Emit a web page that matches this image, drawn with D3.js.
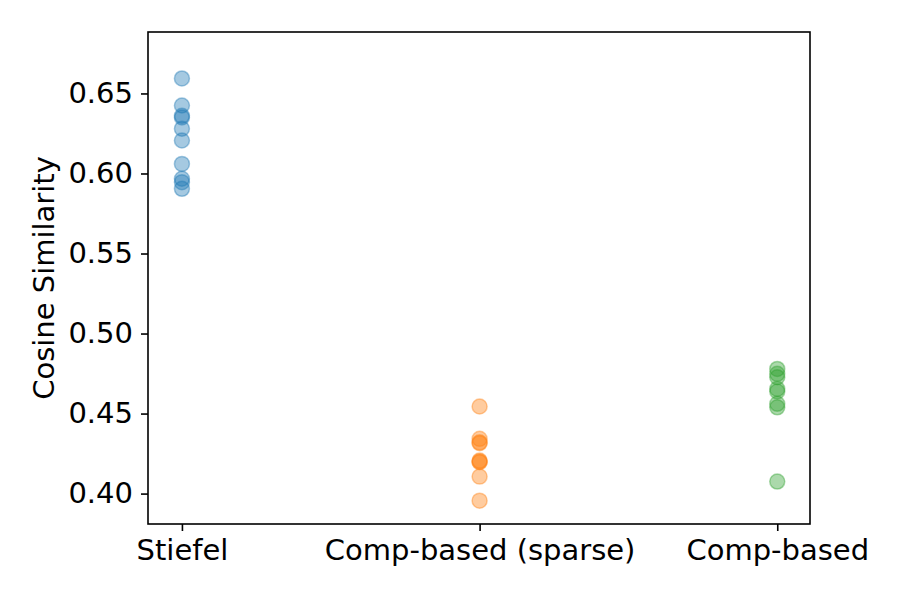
<!DOCTYPE html>
<html><head><meta charset="utf-8">
<script src="https://cdn.jsdelivr.net/npm/d3@7"></script>
<style>body{margin:0;background:#fff}svg{display:block}</style>
</head><body>
<script>
const categories = ["Stiefel", "Comp-based (sparse)", "Comp-based"];
const colors = ["#1f77b4", "#ff7f0e", "#2ca02c"];
const stiefel = [0.6594, 0.6425, 0.636, 0.635, 0.628, 0.6206, 0.606, 0.5967, 0.5946, 0.5904];
const compSparse = [0.4544, 0.4342, 0.432, 0.4315, 0.4206, 0.4200, 0.4196, 0.4106, 0.3956];
const compBased = [0.4779, 0.4748, 0.4727, 0.4654, 0.4638, 0.4561, 0.4539, 0.4075];
const yTicks = [0.40, 0.45, 0.50, 0.55, 0.60, 0.65];
const series = [stiefel, compSparse, compBased];

const W = 900, H = 600;
const m = {left: 148, right: 810, top: 32, bottom: 524};
const svg = d3.select("body").append("svg").attr("width", W).attr("height", H);
const x = d3.scaleLinear().domain([-0.114, 2.11]).range([m.left, m.right]);
const y = d3.scaleLinear().domain([0.3810, 0.6884]).range([m.bottom, m.top]);
const font = "DejaVu Sans, sans-serif";
const fs = "29px";

series.forEach((vals, i) => {
  svg.append("g").selectAll("circle").data(vals).join("circle")
    .attr("cx", x(i)).attr("cy", d => y(d)).attr("r", 7.5)
    .attr("fill", colors[i]).attr("fill-opacity", 0.4)
    .attr("stroke", colors[i]).attr("stroke-opacity", 0.4).attr("stroke-width", 1.5);
});

const yAxis = d3.axisLeft(y).tickValues(yTicks).tickFormat(d3.format(".2f")).tickSizeOuter(0).tickSize(7).tickPadding(8);
const gy = svg.append("g").attr("transform", `translate(${m.left},0)`).call(yAxis);
const xAxis = d3.axisBottom(x).tickValues([0,1,2]).tickFormat(i => categories[i]).tickSizeOuter(0).tickSize(7).tickPadding(8);
const gx = svg.append("g").attr("transform", `translate(0,${m.bottom})`).call(xAxis);
[gy, gx].forEach(g => {
  g.select(".domain").remove();
  g.selectAll("line").attr("stroke", "#000").attr("stroke-width", 1.6);
  g.selectAll("text").attr("font-family", font).attr("font-size", fs).attr("fill", "#000");
});
svg.append("rect").attr("x", m.left).attr("y", m.top).attr("width", m.right - m.left).attr("height", m.bottom - m.top)
  .attr("fill", "none").attr("stroke", "#000").attr("stroke-width", 1.6);

svg.append("text").attr("transform", `translate(54,${(m.top + m.bottom) / 2}) rotate(-90)`)
  .attr("text-anchor", "middle").attr("font-family", font).attr("font-size", fs).text("Cosine Similarity");
</script>
</body></html>
